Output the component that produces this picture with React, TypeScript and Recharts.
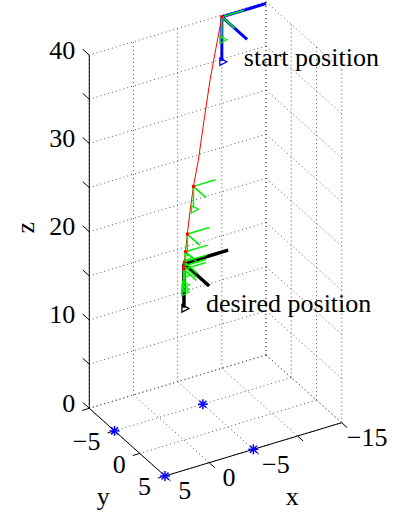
import { ComposedChart, XAxis, YAxis, Line, Scatter } from "recharts"

const W = 394
const H = 515

// axis limits and ticks
const xLim = [-15, 5]
const yLim = [-10, 5]
const zLim = [0, 40]
const xTicks = [5, 0, -5, -10, -15]
const xTickLabels = ["5", "0", "−5", "", "−15"]
const yTicks = [-10, -5, 0, 5]
const yTickLabels = ["", "−5", "0", "5"]
const zTicks = [0, 5, 10, 15, 20, 25, 30, 35, 40]
const zTickLabels = ["0", "", "10", "", "20", "", "30", "", "40"]

// flown trajectory (red)
const pathX = [-10, -8.5, -6.9, -5.3, -3.8, -2.5, -1.6, -0.9, -0.4, -0.1, 0, 0]
const pathY = [-10, -8.5, -6.9, -5.3, -3.8, -2.5, -1.6, -0.9, -0.4, -0.1, 0, 0]
const pathZ = [39.8, 37.6, 35.2, 31.9, 28.6, 26.7, 24.6, 22.6, 21.0, 20.1, 19.5, 20]

// sampled attitudes along the way (green)
const frameX = [-10, -2.5, -0.9, -0.4, -0.1, 0, 0.05]
const frameY = [-10, -2.5, -0.9, -0.4, -0.1, 0, 0.05]
const frameZ = [39.8, 26.7, 22.6, 21.0, 20.1, 19.7, 19.4]

const startPos = [-10, -10, 39.8]
const goalPos = [0, 0, 20]

// ground markers
const starX = [5, 5, -5, -5]
const starY = [5, -5, 5, -5]

// body axes expressed in world frame
const bodyAxes = [[-1, 0, 0], [0, 1, 0], [0, 0, -1]]
const bigLen = 5
const smallLen = 2.5

// orthographic view used by the figure
const view = { ox: 183.95, oy: 440.1, ex: [-8.835, 2.665], ey: [5.047, 4.513], ez: [0, -8.83] }

type P = { px: number; py: number | null; label?: string }

function proj(x: number, y: number, z: number): P {
  return {
    px: view.ox + x * view.ex[0] + y * view.ey[0] + z * view.ez[0],
    py: view.oy + x * view.ex[1] + y * view.ey[1] + z * view.ez[1],
  }
}

function segs(list: [number[], number[]][]): P[] {
  const out: P[] = []
  for (const [a, b] of list) {
    const pa = proj(a[0], a[1], a[2])
    const pb = proj(b[0], b[1], b[2])
    out.push(pa, pb, { px: pb.px, py: null })
  }
  return out
}

// dotted grid on floor and the two back walls
const gridSegs: [number[], number[]][] = []
for (const x of xTicks) {
  gridSegs.push([[x, yLim[0], 0], [x, yLim[1], 0]])
  gridSegs.push([[x, yLim[0], zLim[0]], [x, yLim[0], zLim[1]]])
}
for (const y of yTicks) {
  gridSegs.push([[xLim[0], y, 0], [xLim[1], y, 0]])
  gridSegs.push([[xLim[0], y, zLim[0]], [xLim[0], y, zLim[1]]])
}
for (const z of zTicks) {
  gridSegs.push([[xLim[0], yLim[0], z], [xLim[1], yLim[0], z]])
  gridSegs.push([[xLim[0], yLim[0], z], [xLim[0], yLim[1], z]])
}
const gridData = segs(gridSegs)

const axisSegs: [number[], number[]][] = [
  [[xLim[1], yLim[0], zLim[0]], [xLim[1], yLim[0], zLim[1]]],
  [[xLim[1], yLim[0], 0], [xLim[1], yLim[1], 0]],
  [[xLim[1], yLim[1], 0], [xLim[0], yLim[1], 0]],
]
for (const z of zTicks) axisSegs.push([[xLim[1], yLim[0], z], [xLim[1], yLim[0] - 1.3, z]])
for (const x of xTicks) axisSegs.push([[x, yLim[1], 0], [x, yLim[1] + 1.1, 0]])
for (const y of yTicks) axisSegs.push([[xLim[1], y, 0], [xLim[1] + 0.8, y, 0]])
const axisData = segs(axisSegs)

function frameSegs(p: number[], len: number): [number[], number[]][] {
  return bodyAxes.map((a) => [p, [p[0] + a[0] * len, p[1] + a[1] * len, p[2] + a[2] * len]] as [number[], number[]])
}

const greenData = segs(frameX.flatMap((x, i) => frameSegs([x, frameY[i], frameZ[i]], smallLen)))
const blueData = segs(frameSegs(startPos, bigLen))
const blackData = segs(frameSegs(goalPos, bigLen))
const pathData = pathX.map((x, i) => proj(x, pathY[i], pathZ[i]))
const sampleData = frameX.map((x, i) => proj(x, frameY[i], frameZ[i]))
const starData = starX.map((x, i) => proj(x, starY[i], 0))

const tipOf = (p: number[], len: number) => proj(p[0], p[1], p[2] - len)
const greenTips = frameX.map((x, i) => tipOf([x, frameY[i], frameZ[i]], smallLen))

const zLabelData = zTicks.map((z, i) => ({ ...proj(xLim[1], yLim[0], z), label: zTickLabels[i] }))
const yLabelData = yTicks.map((y, i) => ({ ...proj(xLim[1], y, 0), label: yTickLabels[i] }))
const xLabelData = xTicks.map((x, i) => ({ ...proj(x, yLim[1], 0), label: xTickLabels[i] }))

const FONT = "'Liberation Serif', 'Times New Roman', serif"
const FS = 26

const textShape = (dx: number, dy: number, anchor: string, extra?: (s: string) => number, rotate?: boolean) =>
  (p: any) => {
    const s = p.payload.label as string
    if (!s) return <g />
    const x = p.cx + dx + (extra ? extra(s) : 0)
    const y = p.cy + dy
    return (
      <text x={x} y={y} textAnchor={anchor as any} dominantBaseline="central" fontFamily={FONT} fontSize={FS}
        fill="#000" transform={rotate ? `rotate(-90 ${x} ${y})` : undefined}>{s}</text>
    )
  }

const starShape = (p: any) => (
  <g stroke="#0000ff" strokeWidth={1.5}>
    <line x1={p.cx - 5} y1={p.cy} x2={p.cx + 5} y2={p.cy} />
    <line x1={p.cx} y1={p.cy - 5} x2={p.cx} y2={p.cy + 5} />
    <line x1={p.cx - 3.5} y1={p.cy - 3.5} x2={p.cx + 3.5} y2={p.cy + 3.5} />
    <line x1={p.cx - 3.5} y1={p.cy + 3.5} x2={p.cx + 3.5} y2={p.cy - 3.5} />
  </g>
)

const squareShape = (p: any) => <rect x={p.cx - 1.5} y={p.cy - 1.5} width={3} height={3} fill="#ff0000" />

const triShape = (color: string) => (p: any) => (
  <polygon points={`${p.cx - 2},${p.cy - 3} ${p.cx + 5},${p.cy + 0.8} ${p.cx - 2},${p.cy + 4.5}`}
    fill="none" stroke={color} strokeWidth={1.3} />
)

const startTip = tipOf(startPos, bigLen)
const goalTip = tipOf(goalPos, bigLen)
const noteData = [
  { ...startTip, label: "start position" },
  { ...goalTip, label: "desired position" },
]
const titleData = [
  { ...proj(xLim[1], yLim[0], 20), label: "z", kind: "z" },
  { ...proj(xLim[1], -2.5, 0), label: "y", kind: "y" },
  { ...proj(-5, yLim[1], 0), label: "x", kind: "x" },
]

export default function App() {
  return (
    <div style={{ position: "absolute", left: 0, top: 0, width: W, height: H, background: "#fff" }}>
      <ComposedChart width={W} height={H} margin={{ top: 0, right: 0, bottom: 0, left: 0 }}>
        <XAxis type="number" dataKey="px" domain={[0, W]} hide allowDataOverflow />
        <YAxis type="number" dataKey="py" domain={[0, H]} reversed hide allowDataOverflow />
        <Line data={gridData} dataKey="py" type="linear" stroke="#555" strokeWidth={1} strokeDasharray="1 3"
          dot={false} activeDot={false} isAnimationActive={false} />
        <Line data={axisData} dataKey="py" type="linear" stroke="#000" strokeWidth={1}
          dot={false} activeDot={false} isAnimationActive={false} />
        <Scatter data={starData} shape={starShape} isAnimationActive={false} />
        <Line data={blueData} dataKey="py" type="linear" stroke="#0000ff" strokeWidth={3}
          dot={false} activeDot={false} isAnimationActive={false} />
        <Line data={blackData} dataKey="py" type="linear" stroke="#000" strokeWidth={3.5}
          dot={false} activeDot={false} isAnimationActive={false} />
        <Line data={pathData} dataKey="py" type="linear" stroke="#ff0000" strokeWidth={1}
          dot={false} activeDot={false} isAnimationActive={false} />
        <Scatter data={sampleData} shape={squareShape} isAnimationActive={false} />
        <Line data={greenData} dataKey="py" type="linear" stroke="#00f000" strokeWidth={1.5}
          dot={false} activeDot={false} isAnimationActive={false} />
        <Scatter data={greenTips} shape={triShape("#00f000")} isAnimationActive={false} />
        <Scatter data={[startTip]} shape={triShape("#0000ff")} isAnimationActive={false} />
        <Scatter data={[goalTip]} shape={triShape("#000")} isAnimationActive={false} />
        <Scatter data={zLabelData} shape={textShape(-14, -5, "end")} isAnimationActive={false} />
        <Scatter data={yLabelData} shape={textShape(-14, 11, "end")} isAnimationActive={false} />
        <Scatter data={xLabelData} shape={textShape(17, 15, "middle", (s) => s.length * 2.8)} isAnimationActive={false} />
        <Scatter data={noteData} shape={textShape(22, -4, "start")} isAnimationActive={false} />
        <Scatter data={titleData.filter((t) => t.kind === "z")} shape={textShape(-64, -4, "middle", undefined, true)} isAnimationActive={false} />
        <Scatter data={titleData.filter((t) => t.kind === "y")} shape={textShape(-24, 54, "middle")} isAnimationActive={false} />
        <Scatter data={titleData.filter((t) => t.kind === "x")} shape={textShape(39, 47, "middle")} isAnimationActive={false} />
      </ComposedChart>
    </div>
  )
}
